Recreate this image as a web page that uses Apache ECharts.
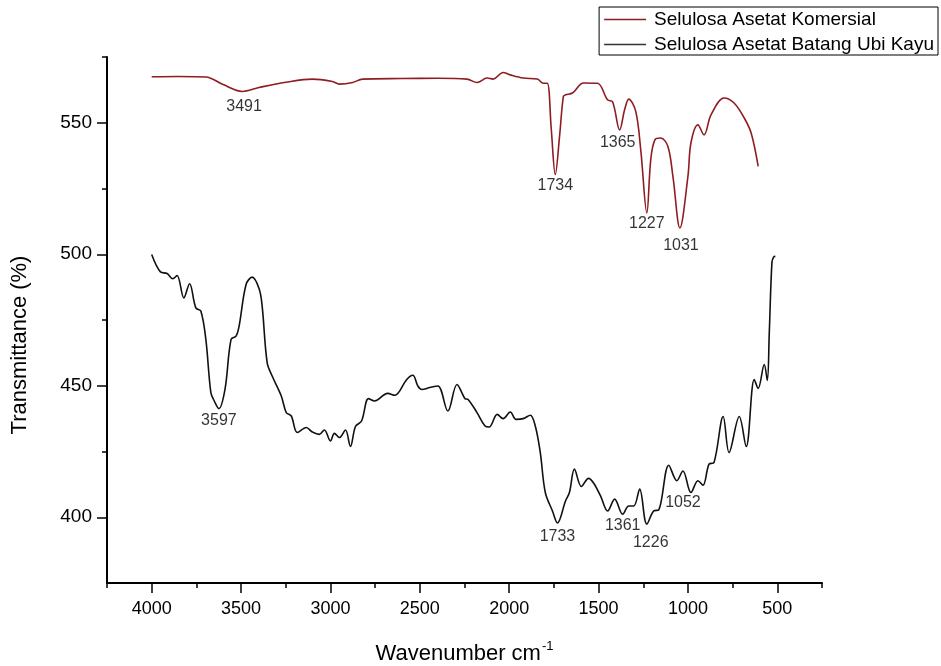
<!DOCTYPE html>
<html>
<head>
<meta charset="utf-8">
<script src="https://cdn.jsdelivr.net/npm/echarts@6/dist/echarts.min.js"></script>
<style>
  html, body { margin: 0; padding: 0; background: #fff; }
  #ftir { width: 941px; height: 666px; }
</style>
</head>
<body>
<div id="ftir"></div>
<script>
// Selulosa Asetat Komersial (wavenumber, transmittance)
var komersialWave = [4000, 3850, 3697, 3600, 3494, 3400, 3250, 3101, 2989, 2950, 2876, 2820, 2600, 2400, 2236, 2180, 2124, 2090, 2034, 1994, 1921, 1843, 1809, 1787, 1765, 1742, 1718, 1697, 1685, 1646, 1584, 1506, 1450, 1421, 1382, 1354, 1331, 1292, 1264, 1230, 1208, 1185, 1152, 1112, 1084, 1045, 1000, 983, 944, 910, 871, 798, 742, 685, 646, 607];
var komersialT = [567.5, 567.6, 567.4, 564.5, 561.9, 563.4, 565.4, 566.6, 565.7, 564.7, 565.3, 566.6, 566.8, 566.9, 566.6, 565.3, 567, 566.6, 569.1, 568.2, 567, 566.6, 565, 565, 548, 530.3, 545, 560, 560.6, 561.3, 565.1, 565, 558.7, 557.9, 547.3, 555, 559, 554.3, 539.7, 515.7, 536, 543.5, 544.2, 541, 529.6, 510, 529.6, 542.4, 549.2, 545.4, 553, 559.4, 557.5, 551.8, 546, 533.4];

// Selulosa Asetat Batang Ubi Kayu
var ubiWave = [4000, 3951, 3914, 3882, 3858, 3820, 3788, 3753, 3725, 3697, 3669, 3650, 3624, 3590, 3556, 3528, 3511, 3472, 3438, 3399, 3382, 3354, 3326, 3275, 3247, 3219, 3185, 3135, 3101, 3062, 3034, 3000, 2978, 2950, 2916, 2888, 2860, 2826, 2787, 2753, 2680, 2640, 2573, 2539, 2511, 2489, 2444, 2399, 2343, 2292, 2247, 2230, 2180, 2135, 2112, 2067, 2034, 1994, 1961, 1921, 1882, 1854, 1826, 1798, 1758, 1730, 1685, 1663, 1635, 1596, 1556, 1528, 1489, 1449, 1410, 1365, 1331, 1303, 1270, 1230, 1191, 1163, 1107, 1062, 1028, 983, 944, 916, 882, 854, 803, 770, 713, 674, 629, 607, 573, 556, 545, 530, 520, 511];
var ubiT = [499.9, 493.3, 492.7, 490.7, 491.9, 483.4, 488.8, 479.6, 478.4, 467.6, 447.4, 444.2, 441.3, 448.6, 467.6, 468.9, 472.7, 488.5, 491.3, 486.9, 480.3, 458.8, 453.7, 446.1, 439.8, 438.5, 432.2, 434.1, 432.4, 431.5, 433.2, 429, 431.9, 430.3, 433.2, 426.9, 434.5, 436.6, 445.1, 444.2, 447.1, 446.4, 452.4, 454, 449.9, 448.6, 449.3, 449.9, 440.4, 450.5, 445.1, 444.8, 439.8, 434.7, 434.3, 439.1, 437.5, 440, 437.2, 437.5, 438.8, 434.7, 424.6, 409.4, 402.4, 397.8, 406.2, 409.4, 418.3, 411.7, 414.8, 413, 408.1, 402.4, 406.9, 401.2, 404.3, 404.3, 410.7, 397.4, 402.4, 402.8, 419.8, 413.9, 417.6, 409.4, 413.9, 412.2, 420.2, 420.8, 438.3, 424.6, 438.3, 426.9, 452.4, 449, 458.1, 452, 470, 497, 499, 499.2];

// peak labels: [wavenumber, transmittance, text]
var komersialPeaks = [[3483, 556.1, '3491'], [1742, 526.1, '1734'], [1393, 542.4, '1365'], [1230, 511.7, '1227'], [1039, 503.3, '1031']];
var ubiPeaks = [[3624, 436.9, '3597'], [1730, 392.8, '1733'], [1365, 397, '1361'], [1208, 390.2, '1226'], [1028, 405.7, '1052']];

var xMajor = [4000, 3500, 3000, 2500, 2000, 1500, 1000, 500];
var xMinor = [4250, 3750, 3250, 2750, 2250, 1750, 1250, 750, 250];
var yMajor = [400, 450, 500, 550];
var yMinor = [425, 475, 525, 575];

function pairs(xs, ys) {
  return xs.map(function (x, i) { return [x, ys[i]]; });
}

var myChart = echarts.init(document.getElementById('ftir'));

var font = 'Liberation Sans, Arial, sans-serif';
var plain = function (v) { return String(v); };

var option = {
  backgroundColor: '#fff',
  animation: false,
  textStyle: { fontFamily: font },
  grid: { left: 107, right: 119, top: 57, bottom: 83, outerBoundsMode: 'none' },
  legend: {
    orient: 'vertical',
    right: 3,
    top: 7,
    icon: 'rect',
    itemWidth: 42,
    itemHeight: 1.5,
    itemGap: 6,
    padding: [3, 4, 1, 5],
    borderColor: '#000',
    borderWidth: 1,
    borderRadius: 0,
    textStyle: { fontSize: 19, color: '#000', fontFamily: font, padding: [0, 0, 0, 3] },
    data: ['Selulosa Asetat Komersial', 'Selulosa Asetat Batang Ubi Kayu']
  },
  xAxis: [{
    type: 'value',
    min: 250,
    max: 4250,
    inverse: true,
    name: '{a|Wavenumber cm}{s|-1}',
    nameLocation: 'middle',
    nameGap: 57,
    nameTextStyle: {
      rich: {
        a: { fontSize: 22, color: '#000', fontFamily: font },
        s: { fontSize: 13, color: '#000', fontFamily: font, verticalAlign: 'top', padding: [0, 0, 14, 1] }
      }
    },
    axisLine: { show: true, lineStyle: { color: '#000', width: 2 } },
    axisTick: { show: true, length: 10, customValues: xMajor, lineStyle: { color: '#000', width: 1.5 } },
    axisLabel: { customValues: xMajor, fontSize: 18, color: '#000', margin: 17, formatter: plain },
    splitLine: { show: false }
  }, {
    type: 'value',
    min: 250,
    max: 4250,
    inverse: true,
    position: 'bottom',
    axisLine: { show: false },
    axisTick: { show: true, length: 5, customValues: xMinor, lineStyle: { color: '#000', width: 1.5 } },
    axisLabel: { show: false },
    splitLine: { show: false }
  }],
  yAxis: [{
    type: 'value',
    min: 375,
    max: 575,
    name: 'Transmittance (%)',
    nameLocation: 'middle',
    nameGap: 76,
    nameTextStyle: { fontSize: 22, color: '#000', padding: [0, 0, 0, -50] },
    axisLine: { show: true, lineStyle: { color: '#000', width: 2 } },
    axisTick: { show: true, length: 10, customValues: yMajor, lineStyle: { color: '#000', width: 1.5 } },
    axisLabel: { customValues: yMajor, fontSize: 19, color: '#000', margin: 15, formatter: plain },
    splitLine: { show: false }
  }, {
    type: 'value',
    min: 375,
    max: 575,
    position: 'left',
    axisLine: { show: false },
    axisTick: { show: true, length: 5, customValues: yMinor, lineStyle: { color: '#000', width: 1.5 } },
    axisLabel: { show: false },
    splitLine: { show: false }
  }],
  series: [{
    name: 'Selulosa Asetat Komersial',
    type: 'line',
    symbol: 'none',
    smooth: 0.35,
    lineStyle: { color: '#8e1c22', width: 1.6 },
    itemStyle: { color: '#8e1c22' },
    data: pairs(komersialWave, komersialT)
  }, {
    name: 'Selulosa Asetat Batang Ubi Kayu',
    type: 'line',
    symbol: 'none',
    smooth: 0.35,
    lineStyle: { color: '#111', width: 1.6 },
    itemStyle: { color: '#333' },
    data: pairs(ubiWave, ubiT)
  }, {
    name: 'peaks',
    type: 'scatter',
    symbolSize: 0,
    silent: true,
    label: {
      show: true,
      position: 'inside',
      fontSize: 16,
      color: '#000',
      formatter: function (p) { return p.data[2]; }
    },
    data: komersialPeaks.concat(ubiPeaks)
  }]
};
myChart.setOption(option);

window.addEventListener('resize', function () {
  myChart.resize();
});
</script>
</body>
</html>
